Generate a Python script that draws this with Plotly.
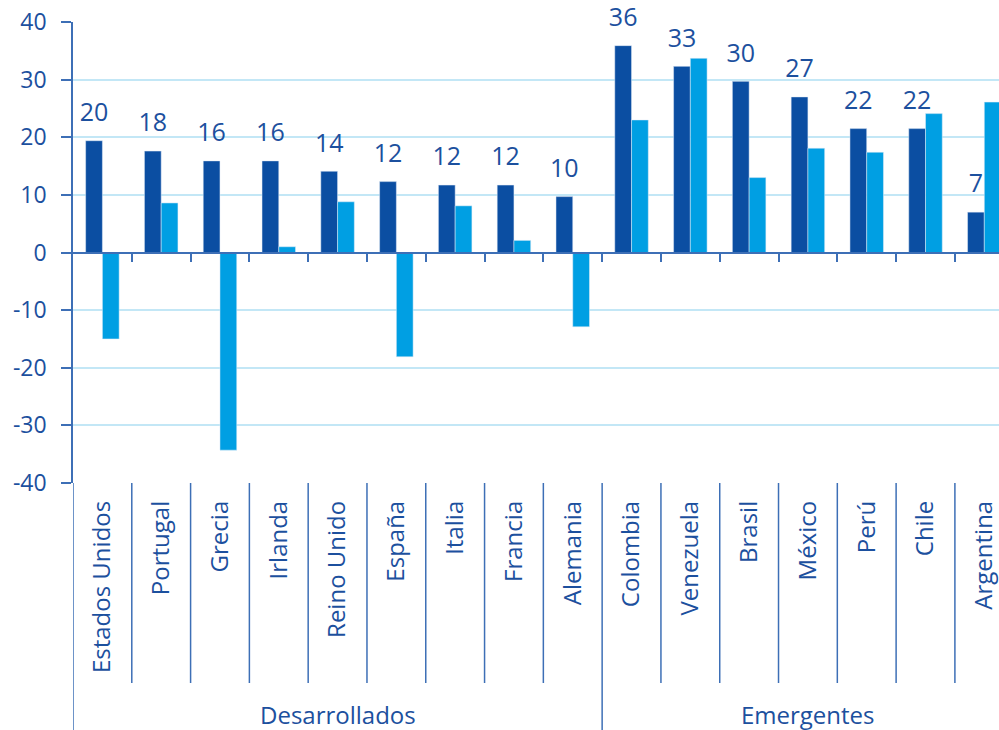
import plotly.graph_objects as go

categories = ["Estados Unidos", "Portugal", "Grecia", "Irlanda", "Reino Unido", "España",
              "Italia", "Francia", "Alemania", "Colombia", "Venezuela", "Brasil",
              "México", "Perú", "Chile", "Argentina"]
groups = ["Desarrollados"] * 9 + ["Emergentes"] * 7
series_dark = [19.4, 17.6, 15.9, 15.9, 14.1, 12.3, 11.7, 11.7, 9.7,
               35.9, 32.3, 29.7, 27.0, 21.5, 21.5, 7.0]
series_light = [-15.0, 8.6, -34.3, 1.0, 8.8, -18.1, 8.1, 2.1, -12.9,
                23.0, 33.7, 13.0, 18.1, 17.4, 24.1, 26.1]
dark_labels = ["20", "18", "16", "16", "14", "12", "12", "12", "10",
               "36", "33", "30", "27", "22", "22", "7"]
y_ticks = [-40, -30, -20, -10, 0, 10, 20, 30, 40]
y_tick_labels = ["-40", "-30", "-20", "-10", "0", "10", "20", "30", "40"]

DARK = "#0b4ea2"
LIGHT = "#009fe3"
TEXT = "#1c509e"
GRID = "#c3e7f6"
AXIS = "#3d6fb6"
FONT = "Open Sans"
WEIGHT = 500

BARGAP = 0.43
n = len(categories)
xrange_ = [-0.5, n - 0.75]

fig = go.Figure()
fig.add_trace(go.Bar(x=categories, y=series_dark, marker_color=DARK, name="A"))
fig.add_trace(go.Bar(x=categories, y=series_light, marker_color=LIGHT, name="B"))

bar_w = (1 - BARGAP) / 2
fig.add_trace(go.Scatter(
    x=[i - bar_w / 2 for i in range(n)], y=series_dark, text=dark_labels,
    mode="markers+text", textposition="top center",
    marker=dict(size=20, opacity=0),
    textfont=dict(family=FONT, size=25, color=TEXT, weight=WEIGHT),
    xaxis="x2", yaxis="y", hoverinfo="skip", showlegend=False, cliponaxis=False))

shapes = []
plot_h = 730 - 22 - 247
deep = -247 / plot_h
shallow = -200 / plot_h
# axis line extension
shapes.append(dict(type="line", xref="x", yref="paper", x0=-0.5, x1=-0.5, y0=0, y1=deep,
                   line=dict(color=AXIS, width=1.5)))
group_bounds = []
for i in range(n - 1):
    edge = i + 0.5
    if groups[i] != groups[i + 1]:
        group_bounds.append(edge)
        y1 = deep
    else:
        y1 = shallow
    shapes.append(dict(type="line", xref="x", yref="paper", x0=edge, x1=edge, y0=0, y1=y1,
                       line=dict(color=AXIS, width=1.5)))

annotations = []
starts = [-0.5] + group_bounds
ends = group_bounds + [n - 0.5]
names = [groups[0]] + [groups[int(b + 0.5)] for b in group_bounds]
for s, e, nm in zip(starts, ends, names):
    annotations.append(dict(x=(s + e) / 2, y=(483 - 714) / plot_h, xref="x", yref="paper",
                            text=nm, showarrow=False, yanchor="middle",
                            font=dict(family=FONT, size=24, color=TEXT, weight=WEIGHT)))

fig.update_layout(
    width=999, height=730,
    margin=dict(l=73, r=0, t=22, b=247, autoexpand=False),
    paper_bgcolor="white", plot_bgcolor="white",
    barmode="group", bargap=BARGAP, bargroupgap=0,
    showlegend=False,
    font=dict(family=FONT, color=TEXT),
    xaxis=dict(type="category", range=xrange_, tickangle=-90, showgrid=False,
               ticks="", showline=False, zeroline=False, ticklabelstandoff=12,
               tickfont=dict(family=FONT, size=24, color=TEXT, weight=WEIGHT)),
    xaxis2=dict(overlaying="x", anchor="free", position=0.5, range=xrange_, type="linear",
                showline=True, linecolor=AXIS, linewidth=1.5, ticks="outside",
                tickvals=[i + 0.5 for i in range(n - 1)], ticklen=9, tickwidth=1.5,
                tickcolor=AXIS, showticklabels=False, showgrid=False, zeroline=False),
    yaxis=dict(range=[-40, 40], tickvals=y_ticks, ticktext=y_tick_labels,
               ticks="outside", ticklen=10,
               tickwidth=1.5, tickcolor=AXIS, showline=True, linecolor=AXIS, linewidth=1.5,
               gridcolor=GRID, gridwidth=1.5, zeroline=False,
               ticklabelstandoff=10,
               tickfont=dict(family=FONT, size=23, color=TEXT, weight=WEIGHT)),
    shapes=shapes, annotations=annotations,
)

fig.write_html("out.html", config={"displayModeBar": False},
               post_script="document.body.style.margin='0';document.body.style.overflow='hidden';")
